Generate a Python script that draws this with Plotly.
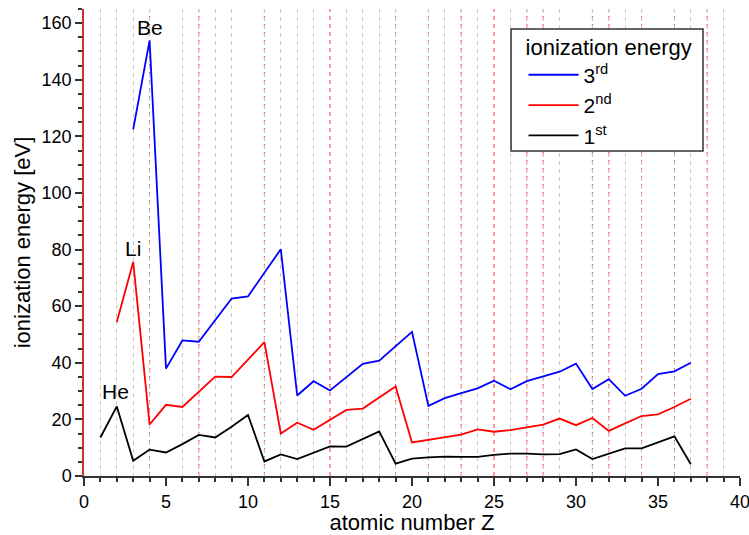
import plotly.graph_objects as go

# Data: ionization energies (eV) by atomic number Z
z_first = list(range(1, 38))
ie_first = [13.60, 24.59, 5.39, 9.32, 8.30, 11.26, 14.53, 13.62, 17.42, 21.56,
            5.14, 7.65, 5.99, 8.15, 10.49, 10.36, 12.97, 15.76, 4.34, 6.11,
            6.56, 6.83, 6.75, 6.77, 7.43, 7.90, 7.88, 7.64, 7.73, 9.39,
            6.00, 7.90, 9.79, 9.75, 11.81, 14.00, 4.18]

z_second = list(range(2, 38))
ie_second = [54.42, 75.64, 18.21, 25.15, 24.38, 29.60, 35.12, 34.97, 40.96,
             47.29, 15.04, 18.83, 16.35, 19.77, 23.34, 23.81, 27.63, 31.63, 11.87,
             12.80, 13.58, 14.62, 16.49, 15.64, 16.19, 17.08, 18.17, 20.29, 17.96,
             20.51, 15.93, 18.59, 21.19, 21.80, 24.36, 27.29]

z_third = list(range(3, 38))
ie_third = [122.45, 153.90, 37.93, 47.89, 47.45, 54.94, 62.71, 63.45,
            71.62, 80.14, 28.45, 33.49, 30.20, 34.86, 39.61, 40.74, 45.81, 50.91,
            24.76, 27.49, 29.31, 30.96, 33.67, 30.65, 33.50, 35.19, 36.84, 39.72,
            30.71, 34.22, 28.35, 30.82, 36.00, 36.95, 40.00]

labels = ["He", "Li", "Be"]
label_x = [1.9, 3.0, 4.0]
label_y = [30.0, 80.5, 158.5]

red_grid_x = [4, 7, 11, 15, 19, 21, 23, 25, 27, 28, 31, 32, 34, 36, 38]

FONT = "Liberation Sans, Arial, sans-serif"

fig = go.Figure()
fig.add_trace(go.Scatter(x=z_third, y=ie_third, mode="lines", name="3<sup>rd</sup>",
                         line=dict(color="#0000ff", width=1.8)))
fig.add_trace(go.Scatter(x=z_second, y=ie_second, mode="lines", name="2<sup>nd</sup>",
                         line=dict(color="#ff0000", width=1.8)))
fig.add_trace(go.Scatter(x=z_first, y=ie_first, mode="lines", name="1<sup>st</sup>",
                         line=dict(color="#000000", width=1.8)))

for t, xx, yy in zip(labels, label_x, label_y):
    fig.add_annotation(x=xx, y=yy, text=t, showarrow=False,
                       font=dict(size=21, color="black", family=FONT))

for gx in red_grid_x:
    fig.add_shape(type="line", xref="x", yref="paper", x0=gx, x1=gx, y0=0, y1=1,
                  line=dict(color="rgba(255,30,30,0.9)", width=1, dash="4px,4px"),
                  layer="below")

# legend frame (drawn separately so the items can sit with extra padding)
fig.add_shape(type="rect", xref="paper", yref="paper",
              x0=0.651, x1=0.9436, y0=0.696, y1=0.957,
              line=dict(color="#333333", width=1.5), fillcolor="white", layer="above")

fig.update_layout(
    width=749, height=535,
    margin=dict(l=84, r=9, t=9, b=59, autoexpand=False),
    paper_bgcolor="white", plot_bgcolor="white",
    font=dict(family=FONT, size=18, color="black"),
    legend=dict(
        x=0.670, y=0.9636, xanchor="left", yanchor="top",
        bgcolor="rgba(0,0,0,0)", borderwidth=0,
        font=dict(size=21, family=FONT),
        title=dict(text="ionization energy", font=dict(size=22, family=FONT)),
        itemwidth=50,
    ),
)

fig.update_xaxes(
    range=[0, 40], dtick=5, tick0=0, automargin=False,
    showline=True, linecolor="#333333", linewidth=2,
    ticks="outside", ticklen=8, tickwidth=1.5, tickcolor="#333333",
    showgrid=False, zeroline=False, ticklabeloverflow="allow",
    tickfont=dict(size=18),
    title=dict(text="atomic number Z", font=dict(size=22), standoff=6),
    minor=dict(dtick=1, ticks="outside", ticklen=4, tickcolor="#333333",
               showgrid=True, gridcolor="#c8c8c8", griddash="4px,4px", gridwidth=1),
)
fig.update_yaxes(
    range=[0, 165], dtick=20, tick0=0, automargin=False,
    showline=True, linecolor="#d03030", linewidth=1.5,
    ticks="outside", ticklen=7, tickwidth=1.5, tickcolor="#333333",
    showgrid=False, zeroline=False,
    tickfont=dict(size=18),
    title=dict(text="ionization energy [eV]", font=dict(size=22), standoff=5),
    minor=dict(dtick=5, ticks="outside", ticklen=4, tickcolor="#333333", showgrid=False),
)

fig.write_html("out.html")
